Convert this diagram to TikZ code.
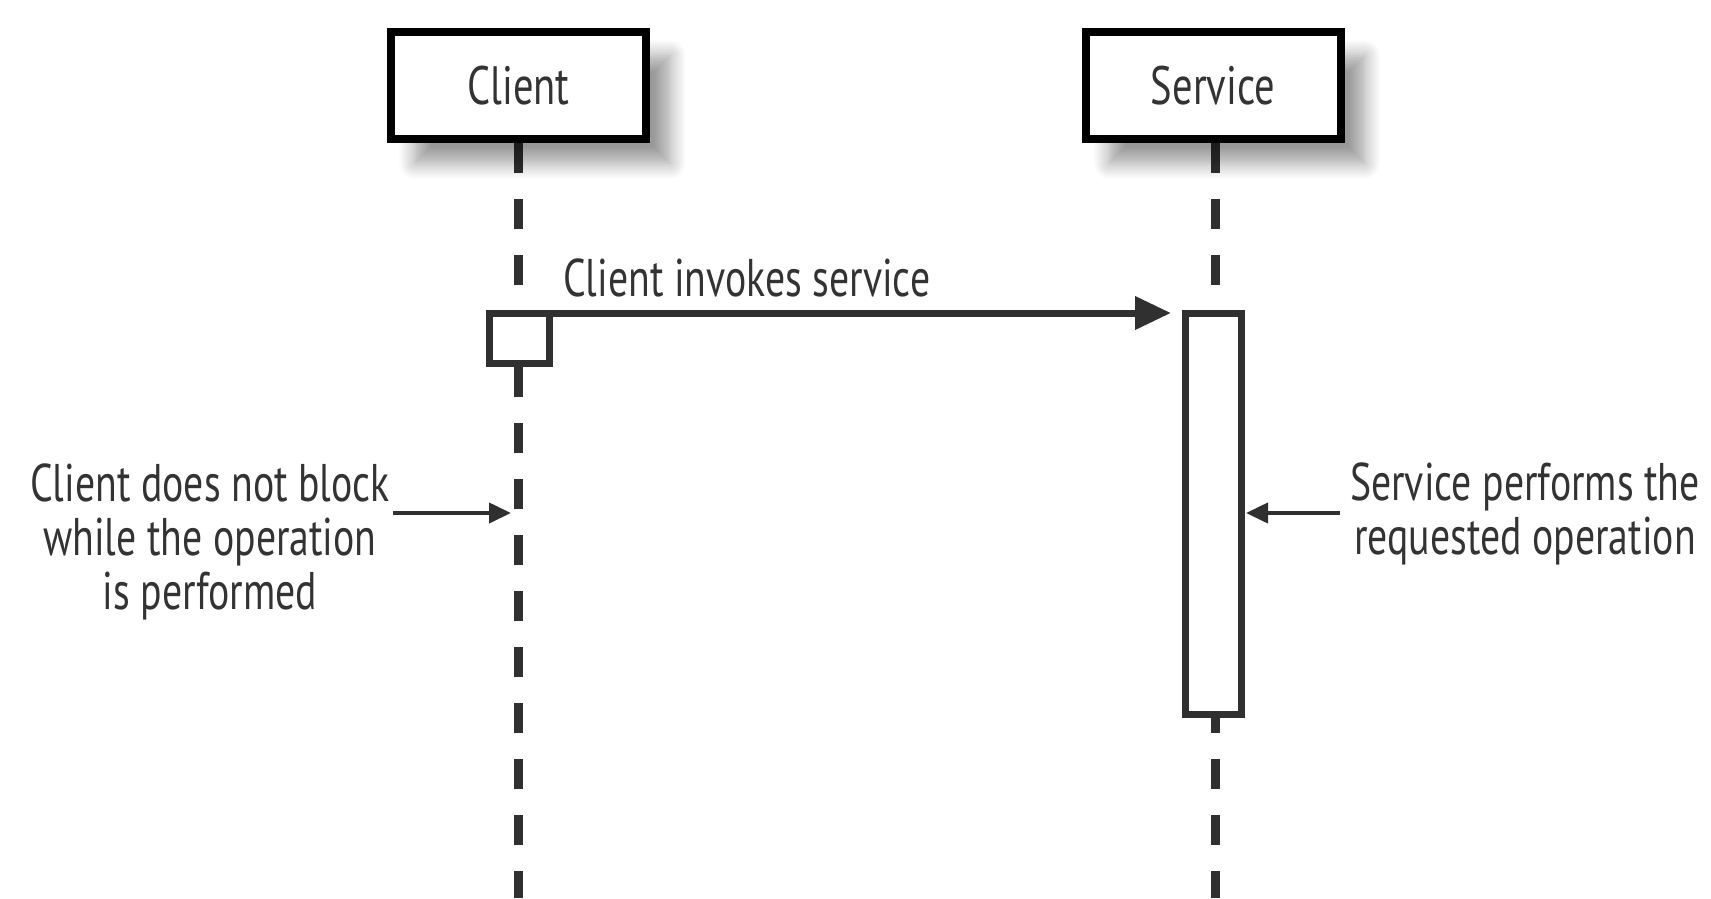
\documentclass[tikz,border=0pt]{standalone}
\usepackage{fontspec}
\setmainfont{PT Sans}[FakeStretch=0.75]
\usetikzlibrary{arrows.meta,shadows.blur}
\definecolor{ink}{HTML}{333333}
\definecolor{stroke}{HTML}{303030}
\tikzset{
  txt/.style={font=\fontsize{53}{54}\selectfont, text=ink, inner sep=0pt},
  headbox/.style={draw=black, line width=8pt, fill=white, minimum width=255pt,
    minimum height=107pt, inner sep=0pt, font=\fontsize{54}{55}\selectfont, text=ink,
    blur shadow={shadow xshift=24pt, shadow yshift=-24pt, shadow blur radius=16pt,
      shadow blur steps=10, shadow opacity=40}},
  actbox/.style={draw=stroke, line width=7pt, fill=white, inner sep=0pt, outer sep=0pt},
  lifeline/.style={draw=stroke, line width=9pt, dash pattern=on 30pt off 26pt},
  msg/.style={draw=stroke, line width=7pt, -{Triangle[length=36pt,width=32pt]}},
  notearrow/.style={draw=stroke, line width=4pt, -{Triangle[length=22pt,width=20pt]}},
}
\begin{document}
\begin{tikzpicture}[x=1pt, y=-1pt]
  \useasboundingbox (0,0) rectangle (1711,898);

  % lifelines
  \coordinate (cbot) at (518,898);
  \coordinate (sbot) at (1215,898);
  \coordinate (ctop) at (518,143);
  \coordinate (stop) at (1215,143);
  \draw[lifeline] (ctop) -- (cbot);
  \draw[lifeline] (stop) -- (sbot);

  % activation bars
  \node[actbox, minimum width=60pt, minimum height=50pt] (act1) at (519.5,338) {};
  \node[actbox, minimum width=56pt, minimum height=401pt] (act2) at (1213.5,513.5) {};

  % participants
  \node[headbox] (client) at (518.5,85.5) {Client};
  \node[headbox] (service) at (1213,85.5) {Service};

  % invocation message
  \coordinate (msgtip) at (1171,313);
  \draw[msg] (act1.north west) -- (msgtip);
  \node[txt, anchor=base west] (msglbl) at (563,296) {Client invokes service};

  % notes
  \node[txt, align=center] (lnote) at (210,542) {Client does not block\\while the operation\\is performed};
  \coordinate (ltail) at (393,513);
  \coordinate (ltip) at (511,513);
  \draw[notearrow] (ltail) -- (ltip);

  \node[txt, align=center] (rnote) at (1525,514) {Service performs the\\requested operation};
  \coordinate (rtail) at (1340,513);
  \coordinate (rtip) at (1246,513);
  \draw[notearrow] (rtail) -- (rtip);
\end{tikzpicture}
\end{document}
